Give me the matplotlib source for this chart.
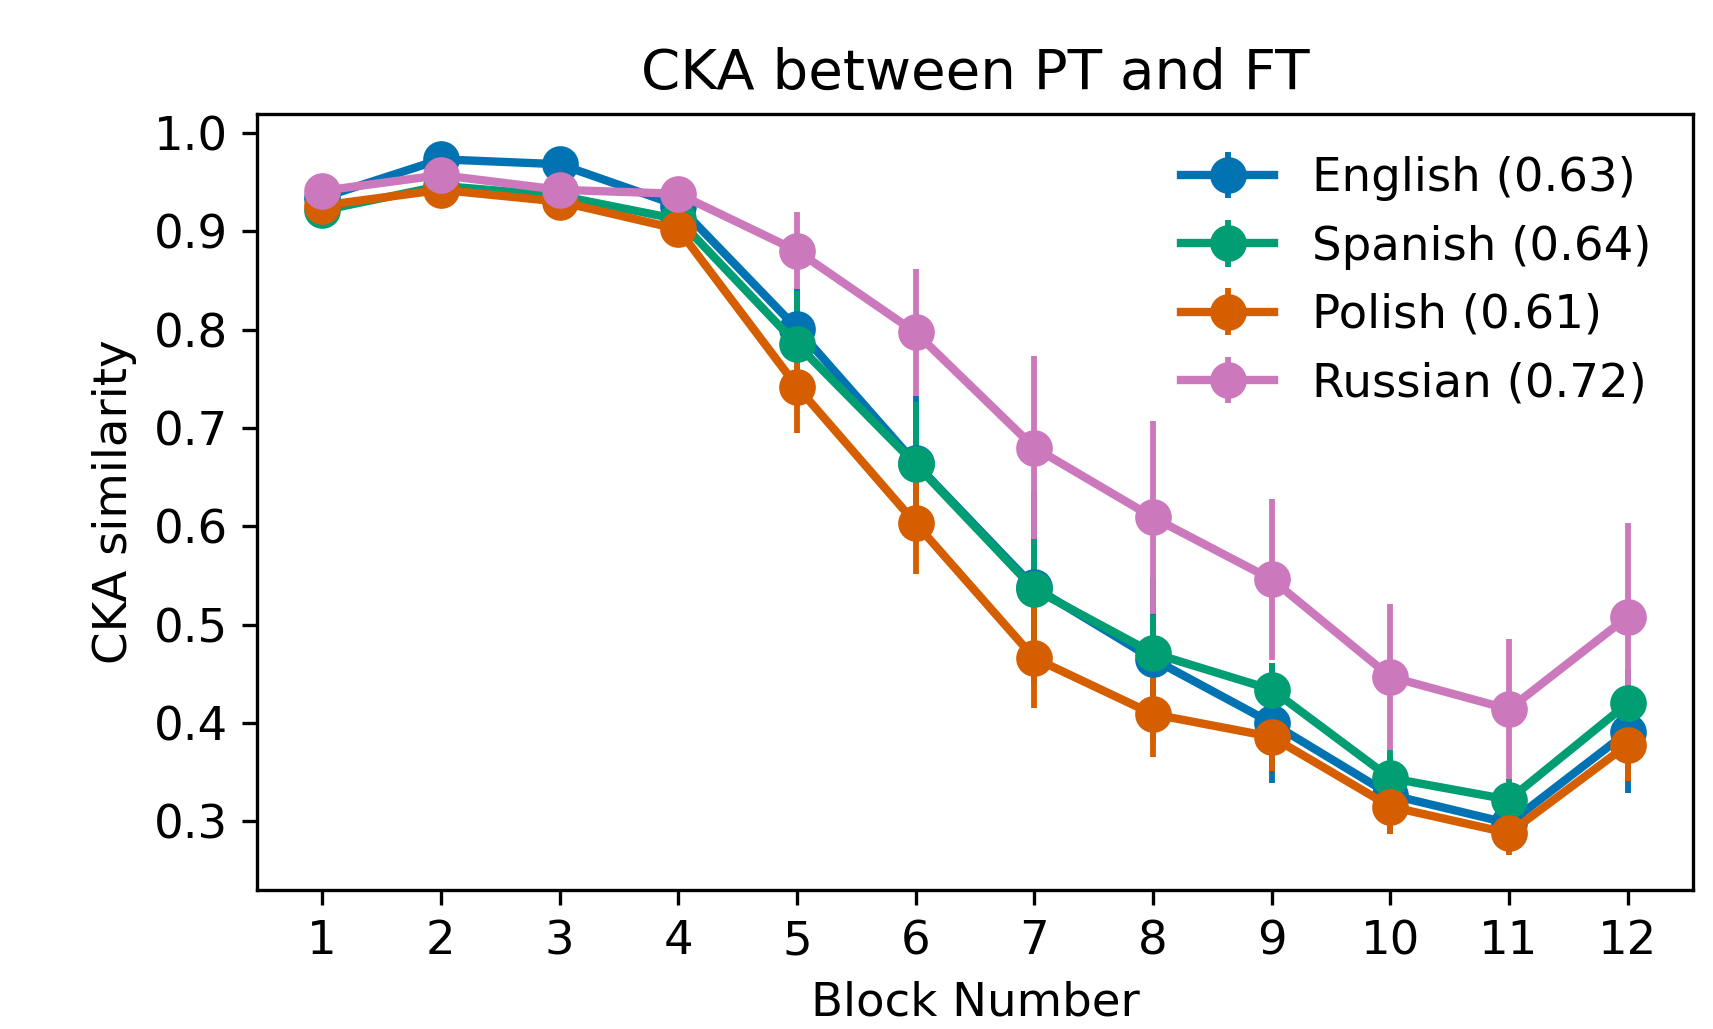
import matplotlib
matplotlib.use("Agg")
import matplotlib.pyplot as plt

blocks = list(range(1, 13))

english = [0.934, 0.973, 0.968, 0.926, 0.801, 0.664, 0.538, 0.465, 0.400, 0.327, 0.298, 0.391]
english_err = [0.006, 0.010, 0.006, 0.008, 0.040, 0.068, 0.097, 0.082, 0.061, 0.040, 0.020, 0.062]

spanish = [0.921, 0.946, 0.936, 0.912, 0.785, 0.663, 0.536, 0.471, 0.434, 0.344, 0.322, 0.420]
spanish_err = [0.006, 0.008, 0.006, 0.008, 0.054, 0.063, 0.052, 0.039, 0.027, 0.029, 0.021, 0.035]

polish = [0.926, 0.942, 0.930, 0.902, 0.742, 0.603, 0.466, 0.409, 0.386, 0.315, 0.288, 0.378]
polish_err = [0.008, 0.015, 0.008, 0.010, 0.047, 0.052, 0.051, 0.044, 0.035, 0.028, 0.022, 0.037]

russian = [0.941, 0.957, 0.942, 0.938, 0.880, 0.797, 0.680, 0.609, 0.546, 0.447, 0.414, 0.508]
russian_err = [0.005, 0.006, 0.005, 0.006, 0.039, 0.065, 0.093, 0.098, 0.082, 0.074, 0.071, 0.095]

labels = ["English (0.63)", "Spanish (0.64)", "Polish (0.61)", "Russian (0.72)"]
colors = ["#0173b2", "#029e73", "#d55e00", "#cc78bc"]

plt.rcParams["font.size"] = 11.2

fig, ax = plt.subplots(figsize=(5.71, 3.43), dpi=300)
fig.subplots_adjust(left=0.15, right=0.9883, top=0.889, bottom=0.135)

series = [(english, english_err), (spanish, spanish_err),
          (polish, polish_err), (russian, russian_err)]
for (vals, errs), lab, col in zip(series, labels, colors):
    ax.errorbar(blocks, vals, yerr=errs, marker="o", color=col, label=lab,
                linewidth=2, markersize=7.8, elinewidth=1.4)

ax.set_xticks(blocks)
ax.set_xlabel("Block Number")
ax.set_ylabel("CKA similarity")
ax.set_title("CKA between PT and FT", fontsize=13.5)
ax.legend(loc="upper right", frameon=False)

fig.savefig("out.png", dpi=300)
